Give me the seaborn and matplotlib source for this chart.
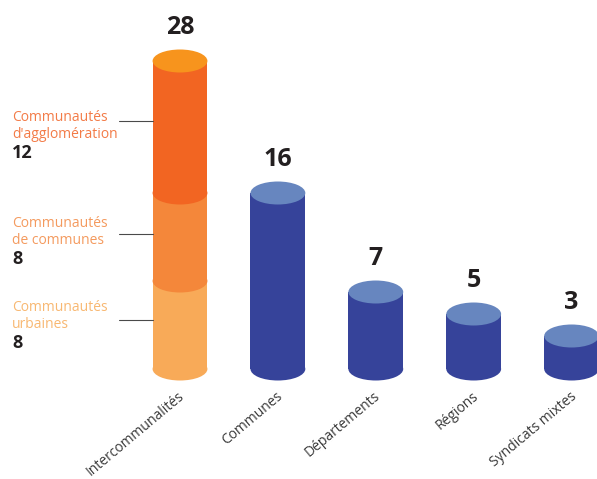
import matplotlib
matplotlib.use("Agg")
import matplotlib.pyplot as plt
from matplotlib.patches import Ellipse
import seaborn as sns

# Data
categories = ["Intercommunalités", "Communes", "Départements", "Régions", "Syndicats mixtes"]
totals = [28, 16, 7, 5, 3]
segment_labels = [["Communautés", "urbaines"],
                  ["Communautés", "de communes"],
                  ["Communautés", "d'agglomération"]]
segment_values = [8, 8, 12]

# Colours
seg_colors = ["#F8AA58", "#F4873A", "#F26522"]
seg_text_colors = ["#F8B872", "#F49A5E", "#F37B47"]
stack_top = "#F7941D"
blue_body = "#36439A"
blue_top = "#6786BF"
dark = "#231F20"

sns.set_theme(style="white")
plt.rcParams["font.family"] = ["Open Sans", "DejaVu Sans"]

W, H = 597, 479
fig = plt.figure(figsize=(W / 100, H / 100), dpi=100)
ax = fig.add_axes([0, 0, 1, 1])

# pixel scale of the drawing
X0, DX = 180.0, 97.9     # centre of first cylinder, spacing between cylinders
Y0, DY = 369.0, 11.0     # baseline, pixels per unit
bar_w = 0.56
ell_h = 23 / DY          # height of the elliptical caps in data units


def px(xp, yp):
    return (xp - X0) / DX, (Y0 - yp) / DY


# cylinder bodies: full totals first, then the lower stacked segments on top
body_colors = [seg_colors[2]] + [blue_body] * (len(categories) - 1)
sns.barplot(x=categories, y=totals, order=categories, hue=categories,
            palette=body_colors, legend=False, width=bar_w, linewidth=0,
            saturation=1, ax=ax)
cum = [sum(segment_values[:k + 1]) for k in range(len(segment_values))]
for k in (1, 0):
    sns.barplot(x=[categories[0]], y=[cum[k]], order=categories,
                color=seg_colors[k], width=bar_w, linewidth=0,
                saturation=1, ax=ax)

# elliptical bases and tops
z = 5
for i, total in enumerate(totals):
    if i == 0:
        bottoms = [0] + cum[:-1]
        for k, b in enumerate(bottoms):
            ax.add_patch(Ellipse((i, b), bar_w, ell_h, color=seg_colors[k],
                                 lw=0, zorder=z))
            z += 1
        ax.add_patch(Ellipse((i, total), bar_w, ell_h, color=stack_top,
                             lw=0, zorder=z))
    else:
        ax.add_patch(Ellipse((i, 0), bar_w, ell_h, color=blue_body,
                             lw=0, zorder=z))
        ax.add_patch(Ellipse((i, total), bar_w, ell_h, color=blue_top,
                             lw=0, zorder=z + 1))
    z += 2

# value labels above each cylinder
for i, total in enumerate(totals):
    ax.annotate(str(total), xy=(i, total + ell_h / 2), xytext=(0, 11),
                textcoords="offset points", ha="center", va="baseline",
                fontsize=18, fontweight="bold", color=dark, zorder=20)

# category labels
for i, cat in enumerate(categories):
    x, y = px(X0 + DX * i - 2, 389)
    ax.text(x, y, cat, rotation=40, rotation_mode="anchor", ha="right",
            va="top", fontsize=10, color="#3A3A3A")

# segment annotations on the left
line_y = [320, 234, 121]
first_base = [311, 227, 121]
for k in range(len(segment_values)):
    yb = first_base[k]
    for j, line in enumerate(segment_labels[k]):
        x, y = px(12, yb + 16.5 * j)
        ax.text(x, y, line, ha="left", va="baseline", fontsize=10,
                color=seg_text_colors[k])
    x, y = px(12, yb + 37.5)
    ax.text(x, y, str(segment_values[k]), ha="left", va="baseline",
            fontsize=13, fontweight="bold", color=dark)
    x1, y1 = px(119, line_y[k])
    x2, _ = px(153, line_y[k])
    ax.plot([x1, x2], [y1, y1], color="#4A4A4A", lw=0.8, zorder=2)

ax.set_xlim(px(0, 0)[0], px(W, 0)[0])
ax.set_ylim(px(0, H)[1], px(0, 0)[1])
ax.axis("off")

fig.savefig("out.png", dpi=100)
